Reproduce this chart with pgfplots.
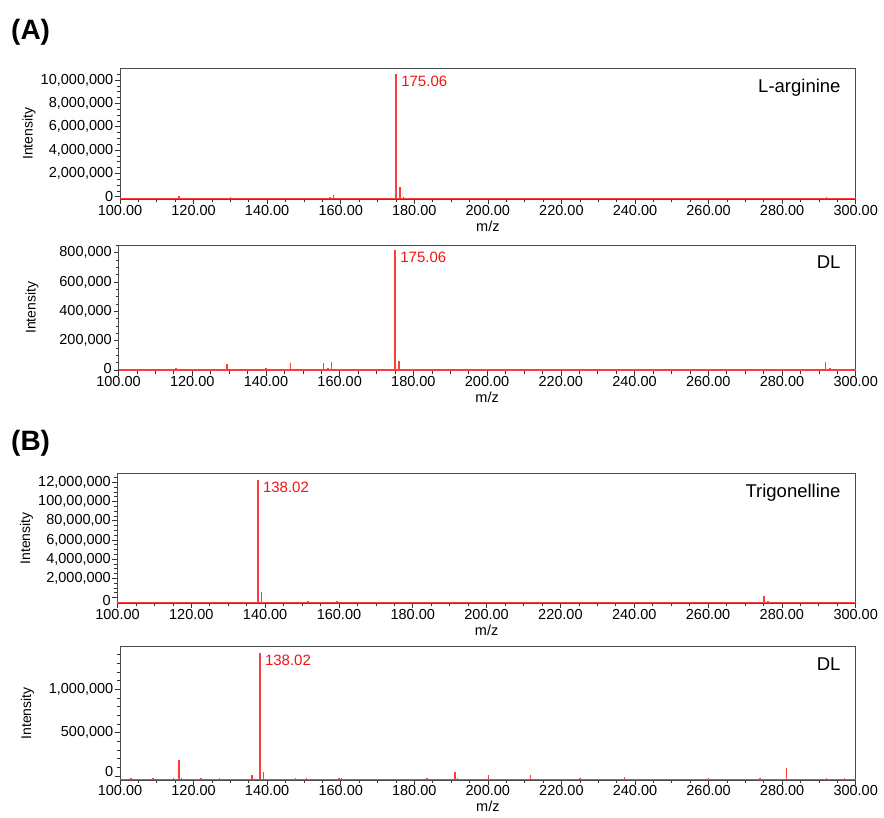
\documentclass[border=0pt]{standalone}
\usepackage{fontspec}
\setmainfont{Liberation Sans}
\usepackage{pgfplots}
\pgfplotsset{compat=1.18}
\definecolor{spec}{RGB}{255,60,60}
\definecolor{lab}{RGB}{240,20,20}
\pgfplotsset{
  msstyle/.style={
    scale only axis, anchor=south west, clip=false,
    xmin=100, xmax=300,
    xtick={100,120,140,160,180,200,220,240,260,280,300},
    xticklabels={100.00,120.00,140.00,160.00,180.00,200.00,220.00,240.00,260.00,280.00,300.00},
    minor xtick={105,110,115,125,130,135,145,150,155,165,170,175,185,190,195,205,210,215,225,230,235,245,250,255,265,270,275,285,290,295},
    scaled y ticks=false,
    tick align=outside, tick pos=left,
    major tick length=5pt, minor tick length=3pt,
    every tick/.style={black!80,line width=0.6pt},
    axis line style={black!70,line width=0.8pt},
    tick label style={font=\fontsize{14.5}{16}\selectfont, inner sep=1.5pt},
    xticklabel style={yshift=1pt},
    /pgf/number format/assume math mode=true,
    xlabel={m/z},
    every axis x label/.style={at={(axis description cs:0.5,0)}, anchor=north, yshift=-21pt, inner sep=0pt, font=\fontsize{14.5}{16}\selectfont},
    ylabel={Intensity},
    every axis y label/.style={rotate=90, anchor=center, inner sep=0pt, font=\fontsize{14}{16}\selectfont},
  },
  spk/.style={spec, line width=1.5pt, unbounded coords=jump},
  base/.style={spec, line width=1.2pt},
}
\tikzset{
  peaklab/.style={anchor=north west, inner sep=0pt, xshift=5pt, yshift=-2pt, text=lab, font=\fontsize{15}{17}\selectfont},
  titlab/.style={anchor=north east, inner sep=0pt, xshift=-15pt, yshift=-11pt, font=\fontsize{18.5}{20}\selectfont},
}
\begin{document}
\begin{tikzpicture}
\node[anchor=base west, inner sep=0pt, font=\bfseries\fontsize{28}{30}\selectfont] at (11pt,-40pt) {(A)};
\node[anchor=base west, inner sep=0pt, font=\bfseries\fontsize{28}{30}\selectfont] at (11pt,-450.7pt) {(B)};

% ---------- Panel 1: L-arginine ----------
\begin{axis}[msstyle,
  at={(120pt,-199.3pt)}, width=735.7pt, height=131.3pt,
  ymin=-223000, ymax=11030000,
  ytick={0,2000000,4000000,6000000,8000000,10000000},
  yticklabels={{0},{2,000,000},{4,000,000},{6,000,000},{8,000,000},{10,000,000}},
  minor ytick={500000,1000000,1500000,2500000,3000000,3500000,4500000,5000000,5500000,6500000,7000000,7500000,8500000,9000000,9500000,10500000},
  ylabel style={at={(axis description cs:-0.1237,0.5)}},
]
\addplot[base] coordinates {(100,-150000)(300,-150000)};
\addplot[spk] coordinates {
(111,-150000)(111,-80000)(111,nan)
(116,-150000)(116,20000)(116,nan)
(130,-150000)(130,0)(130,nan)
(148,-150000)(148,-100000)(148,nan)
(157.1,-150000)(157.1,-20000)(157.1,nan)
(158.1,-150000)(158.1,150000)(158.1,nan)
(175.06,-150000)(175.06,10500000)(175.06,nan)
(176.06,-150000)(176.06,860000)(176.06,nan)
(177.06,-150000)(177.06,0)(177.06,nan)
(203,-150000)(203,-100000)(203,nan)
(230,-150000)(230,-100000)(230,nan)
(262,-150000)(262,-100000)(262,nan)
(292.1,-150000)(292.1,0)(292.1,nan)
};
\node[peaklab] at (axis cs:175.06,10500000) {175.06};
\node[titlab] at (rel axis cs:1,1) {L-arginine};
\end{axis}

% ---------- Panel 2: DL ----------
\begin{axis}[msstyle,
  at={(118.5pt,-370.5pt)}, width=737.2pt, height=125.5pt,
  ymin=-4000, ymax=852000,
  ytick={200000,400000,600000,800000},
  yticklabels={{200,000},{400,000},{600,000},{800,000}},
  extra y ticks={0}, extra y tick labels={0},
  extra y tick style={yticklabel style={yshift=1.5pt}},
  minor ytick={50000,100000,150000,250000,300000,350000,450000,500000,550000,650000,700000,750000,850000},
  ylabel style={at={(axis description cs:-0.1173,0.5)}},
]
\addplot[base] coordinates {(100,0)(300,0)};
\addplot[spk] coordinates {
(104.5,0)(104.5,3000)(104.5,nan)
(108,0)(108,2000)(108,nan)
(111.2,0)(111.2,5000)(111.2,nan)
(113.3,0)(113.3,9000)(113.3,nan)
(114.6,0)(114.6,7000)(114.6,nan)
(115.6,0)(115.6,14000)(115.6,nan)
(118.6,0)(118.6,5000)(118.6,nan)
(121,0)(121,3000)(121,nan)
(129.5,0)(129.5,41000)(129.5,nan)
(134.2,0)(134.2,6000)(134.2,nan)
(137,0)(137,3000)(137,nan)
(140,0)(140,10000)(140,nan)
(142.1,0)(142.1,8000)(142.1,nan)
(143.2,0)(143.2,6000)(143.2,nan)
(146.6,0)(146.6,45000)(146.6,nan)
(147.5,0)(147.5,5000)(147.5,nan)
(150,0)(150,6000)(150,nan)
(155.6,0)(155.6,45000)(155.6,nan)
(156.9,0)(156.9,15000)(156.9,nan)
(157.8,0)(157.8,57000)(157.8,nan)
(163.7,0)(163.7,3000)(163.7,nan)
(169.7,0)(169.7,4000)(169.7,nan)
(175.06,0)(175.06,818000)(175.06,nan)
(176.06,0)(176.06,61000)(176.06,nan)
(177.1,0)(177.1,8000)(177.1,nan)
(182,0)(182,4000)(182,nan)
(184,0)(184,3000)(184,nan)
(191,0)(191,2000)(191,nan)
(204,0)(204,3000)(204,nan)
(206,0)(206,4000)(206,nan)
(216,0)(216,2000)(216,nan)
(226,0)(226,3000)(226,nan)
(228,0)(228,4000)(228,nan)
(231,0)(231,3000)(231,nan)
(236,0)(236,4000)(236,nan)
(245,0)(245,3000)(245,nan)
(248,0)(248,2000)(248,nan)
(268,0)(268,3000)(268,nan)
(279,0)(279,3000)(279,nan)
(291.8,0)(291.8,57000)(291.8,nan)
(293,0)(293,10000)(293,nan)
};
\node[peaklab] at (axis cs:175.06,818000) {175.06};
\node[titlab] at (rel axis cs:1,1) {DL};
\end{axis}

% ---------- Panel 3: Trigonelline ----------
\begin{axis}[msstyle,
  at={(117.5pt,-603.3pt)}, width=738.2pt, height=130pt,
  ymin=-600000, ymax=12940000,
  ytick={2000000,4000000,6000000,8000000,10000000,12000000},
  yticklabels={{2,000,000},{4,000,000},{6,000,000},{80,000,00},{100,00,000},{12,000,000}},
  extra y ticks={0}, extra y tick labels={0},
  extra y tick style={yticklabel style={yshift=-2.5pt}},
  minor ytick={500000,1000000,1500000,2500000,3000000,3500000,4500000,5000000,5500000,6500000,7000000,7500000,8500000,9000000,9500000,10500000,11000000,11500000,12500000},
  ylabel style={at={(axis description cs:-0.1233,0.5)}},
]
\addplot[base] coordinates {(100,-520000)(300,-520000)};
\addplot[spk] coordinates {
(112,-520000)(112,-440000)(112,nan)
(127,-520000)(127,-450000)(127,nan)
(138.02,-520000)(138.02,12240000)(138.02,nan)
(139.07,-520000)(139.07,540000)(139.07,nan)
(151.6,-520000)(151.6,-330000)(151.6,nan)
(159.5,-520000)(159.5,-400000)(159.5,nan)
(181,-520000)(181,-450000)(181,nan)
(205,-520000)(205,-460000)(205,nan)
(240,-520000)(240,-460000)(240,nan)
(275.2,-520000)(275.2,200000)(275.2,nan)
(276.2,-520000)(276.2,-400000)(276.2,nan)
};
\node[peaklab] at (axis cs:138.02,12240000) {138.02};
\node[titlab] at (rel axis cs:1,1) {Trigonelline};
\end{axis}

% ---------- Panel 4: DL ----------
\begin{axis}[msstyle,
  at={(120pt,-780pt)}, width=735.7pt, height=133.3pt,
  ymin=-44000, ymax=1489000,
  ytick={500000,1000000},
  yticklabels={{500,000},{1,000,000}},
  extra y ticks={0}, extra y tick labels={0},
  extra y tick style={yticklabel style={yshift=4.5pt}},
  minor ytick={100000,200000,300000,400000,600000,700000,800000,900000,1100000,1200000,1300000,1400000},
  ylabel style={at={(axis description cs:-0.1257,0.5)}},
]
\addplot[base] coordinates {(100,-36000)(300,-36000)};
\addplot[spk] coordinates {
(103,-36000)(103,-25000)(103,nan)
(109,-36000)(109,-22000)(109,nan)
(114.6,-36000)(114.6,-18000)(114.6,nan)
(116.1,-36000)(116.1,186000)(116.1,nan)
(116.7,-36000)(116.7,-25000)(116.7,nan)
(122,-36000)(122,-24000)(122,nan)
(127,-36000)(127,-24000)(127,nan)
(135.9,-36000)(135.9,14000)(135.9,nan)
(138.02,-36000)(138.02,1413000)(138.02,nan)
(139.0,-36000)(139.0,52000)(139.0,nan)
(147.7,-36000)(147.7,-20000)(147.7,nan)
(150.7,-36000)(150.7,-25000)(150.7,nan)
(159.5,-36000)(159.5,-20000)(159.5,nan)
(160.2,-36000)(160.2,-16000)(160.2,nan)
(164,-36000)(164,-28000)(164,nan)
(183.5,-36000)(183.5,-24000)(183.5,nan)
(191.1,-36000)(191.1,52000)(191.1,nan)
(191.7,-36000)(191.7,-20000)(191.7,nan)
(200.2,-36000)(200.2,14000)(200.2,nan)
(211.6,-36000)(211.6,14000)(211.6,nan)
(225,-36000)(225,-25000)(225,nan)
(237.1,-36000)(237.1,-15000)(237.1,nan)
(260,-36000)(260,-25000)(260,nan)
(274,-36000)(274,-25000)(274,nan)
(281.2,-36000)(281.2,98000)(281.2,nan)
(292,-36000)(292,-25000)(292,nan)
(297,-36000)(297,-25000)(297,nan)
};
\node[peaklab] at (axis cs:138.02,1413000) {138.02};
\node[titlab] at (rel axis cs:1,1) {DL};
\end{axis}

\pgfresetboundingbox
\path[use as bounding box] (0pt,0pt) rectangle (884pt,-818pt);
\end{tikzpicture}
\end{document}
